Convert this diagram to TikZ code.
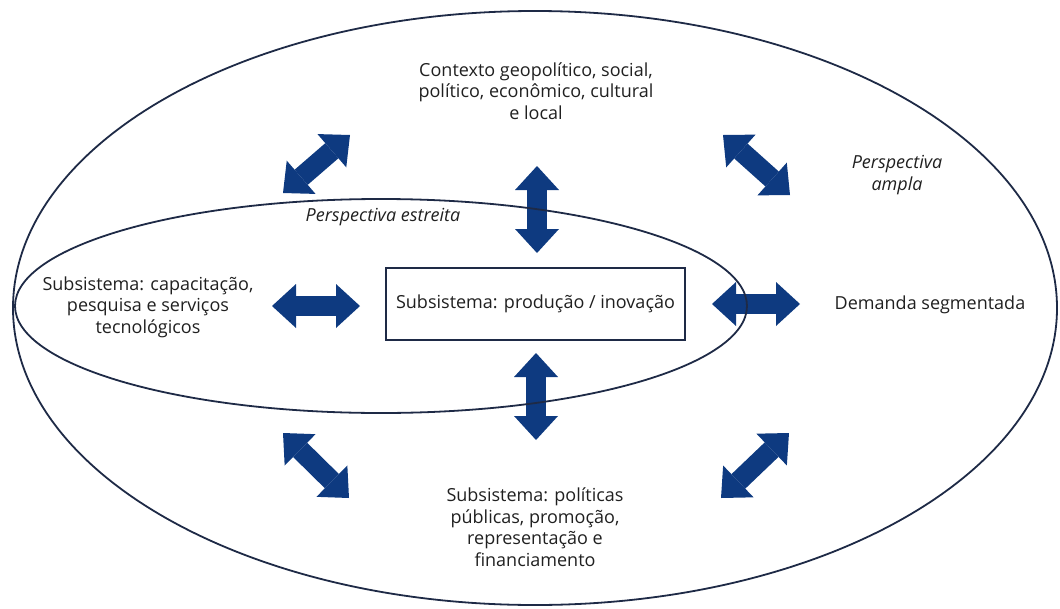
\documentclass[tikz,border=0pt]{standalone}
\usepackage{fontspec}
\setmainfont{Open Sans}
\usepackage{tikz}
\usetikzlibrary{arrows.meta}
\definecolor{azul}{RGB}{14,58,128}
\definecolor{linha}{RGB}{30,42,70}
\definecolor{tinta}{RGB}{32,32,32}
\tikzstyle{texto}=[align=center,inner sep=0pt,text=tinta,font=\fontsize{18}{21.5}\selectfont]
\tikzstyle{italico}=[texto,font=\fontsize{18}{21.5}\selectfont\itshape]
\tikzstyle{caixa}=[texto,draw=linha,line width=1.8pt,fill=white,minimum width=299pt,minimum height=72pt]
\tikzstyle{contorno}=[draw=linha,line width=1.8pt]
\tikzstyle{seta}=[draw=azul,line width=20pt,{Triangle[width=44pt,length=24pt,line width=0pt]}-{Triangle[width=44pt,length=24pt,line width=0pt]}]
\newcommand{\dupla}[2]{
  \draw[seta] (#1) -- (#2);
}

\begin{document}
\begin{tikzpicture}[x=1pt,y=-1pt]
\useasboundingbox (0,0) rectangle (1060,608);
% pontas das setas
\coordinate (cima1) at (537,166);
\coordinate (cima2) at (537,253);
\coordinate (baixo1) at (536,353);
\coordinate (baixo2) at (536,440);
\coordinate (esq1) at (272,306);
\coordinate (esq2) at (360,306);
\coordinate (dir1) at (712,304);
\coordinate (dir2) at (800,304);
\coordinate (se1) at (283,193);
\coordinate (se2) at (350,135);
\coordinate (sd1) at (723,135);
\coordinate (sd2) at (790,195);
\coordinate (ie1) at (283,433);
\coordinate (ie2) at (349,498);
\coordinate (id1) at (721,498);
\coordinate (id2) at (789,433);
\dupla{cima1}{cima2};
\dupla{baixo1}{baixo2};
\dupla{esq1}{esq2};
\dupla{dir1}{dir2};
\dupla{se1}{se2};
\dupla{sd1}{sd2};
\dupla{ie1}{ie2};
\dupla{id1}{id2};
% perspectivas
\draw[contorno] (535,308) ellipse [x radius=522pt, y radius=297pt];
\draw[contorno] (381,306) ellipse [x radius=366pt, y radius=107pt];
% subsistemas
\node[caixa] (producao) at (535.5,304) {Subsistema: produção / inovação};
\node[texto] (contexto) at (536,91) {Contexto geopolítico, social,\\político, econômico, cultural\\e local};
\node[texto] (capacitacao) at (148,307) {Subsistema: capacitação,\\pesquisa e serviços\\tecnológicos};
\node[texto] (demanda) at (930,305) {Demanda segmentada};
\node[texto] (politicas) at (535,527) {Subsistema: políticas\\públicas, promoção,\\representação e\\financiamento};
\node[italico] (estreita) at (383,217) {Perspectiva estreita};
\node[italico] (ampla) at (897,175) {Perspectiva\\ampla};
\end{tikzpicture}
\end{document}
